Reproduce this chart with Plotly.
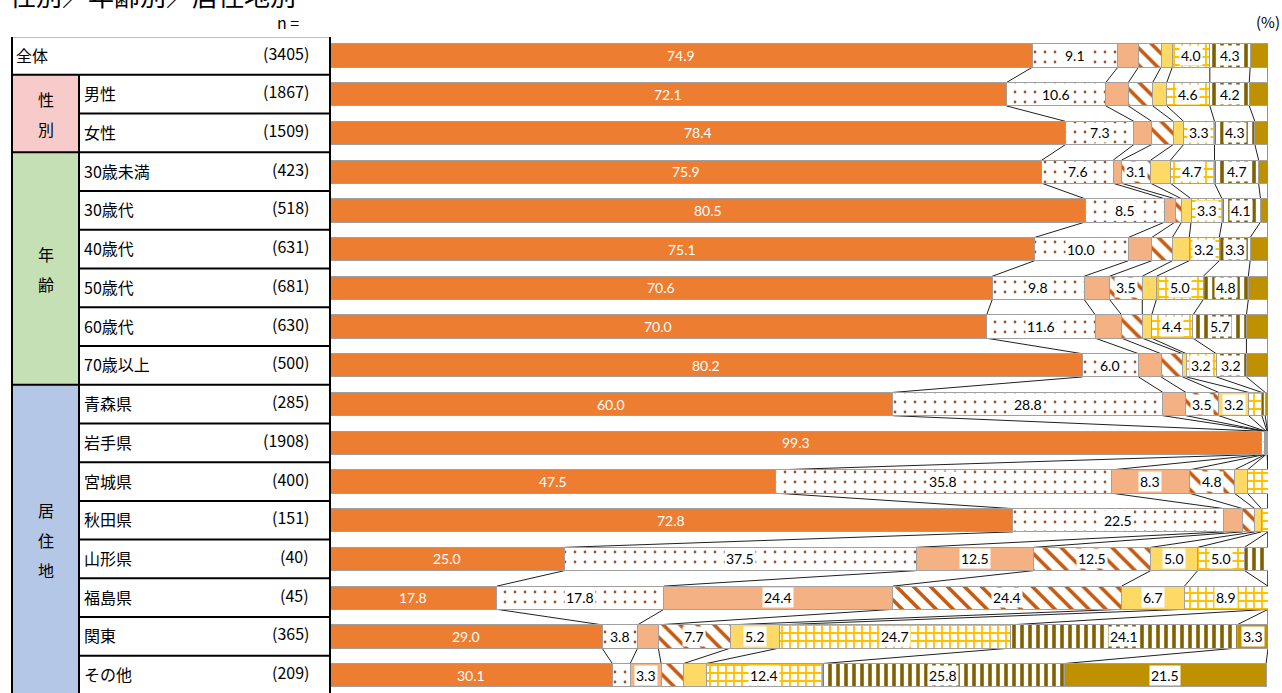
import plotly.graph_objects as go

# ---------------- data ----------------
categories = ["全体", "男性", "女性", "30歳未満", "30歳代", "40歳代", "50歳代", "60歳代", "70歳以上",
              "青森県", "岩手県", "宮城県", "秋田県", "山形県", "福島県", "関東", "その他"]
n_labels = ["(3405)", "(1867)", "(1509)", "(423)", "(518)", "(631)", "(681)", "(630)", "(500)",
            "(285)", "(1908)", "(400)", "(151)", "(40)", "(45)", "(365)", "(209)"]
group_names = ["性別", "年齢", "居住地"]
group_first = ["男性", "30歳未満", "青森県"]
group_last = ["女性", "70歳以上", "その他"]
title_text = "性別／年齢別／居住地別"

series_1 = [74.9, 72.1, 78.4, 75.9, 80.5, 75.1, 70.6, 70.0, 80.2, 60.0, 99.3, 47.5, 72.8, 25.0, 17.8, 29.0, 30.1]
series_2 = [9.1, 10.6, 7.3, 7.6, 8.5, 10.0, 9.8, 11.6, 6.0, 28.8, 0.3, 35.8, 22.5, 37.5, 17.8, 3.8, 1.9]
series_3 = [2.2, 2.4, 1.9, 0.9, 1.1, 2.5, 2.7, 2.8, 2.4, 2.45, 0.1, 8.3, 2.0, 12.5, 24.4, 2.2, 3.3]
series_4 = [2.4, 2.6, 2.3, 3.1, 0.7, 2.2, 3.5, 2.2, 2.3, 3.5, 0.05, 4.8, 1.3, 12.5, 24.4, 7.7, 2.4]
series_5 = [1.2, 1.5, 1.1, 2.1, 1.0, 1.8, 1.5, 1.0, 0.4, 3.2, 0.05, 1.4, 0.7, 5.0, 6.7, 5.2, 2.4]
series_6 = [4.0, 4.6, 3.3, 4.7, 3.3, 3.2, 5.0, 4.4, 3.2, 1.4, 0.1, 2.2, 0.7, 5.0, 8.9, 24.7, 12.4]
series_7 = [4.3, 4.2, 4.3, 4.7, 4.1, 3.3, 4.8, 5.7, 3.2, 0.35, 0.05, 0.0, 0.0, 2.5, 0.0, 24.1, 25.8]
series_8 = [1.9, 2.0, 1.4, 1.0, 0.8, 1.9, 2.1, 2.3, 2.3, 0.3, 0.05, 0.0, 0.0, 0.0, 0.0, 3.3, 21.5]
all_series = [series_1, series_2, series_3, series_4, series_5, series_6, series_7, series_8]

# ---------------- styles ----------------
W, H = 1282, 693
X0, X1 = 330, 1268          # pixel extent of the plot area
TOP = 37
ROW_PX = 38.73
ROW0_PX = 55.5
FONT_JP = "Noto Sans CJK JP"
FONT_NUM = "Lato, Noto Sans"
OUTLINE = "#A0A0A0"
styles = [
    dict(color="#ED7D31"),
    dict(color="white", pattern=dict(shape=".", fgcolor="#A0522D", bgcolor="white", fgopacity=1,
                                     size=10, solidity=0.06)),
    dict(color="#F4B183"),
    dict(color="white", pattern=dict(shape="\\", fgcolor="#C55A11", bgcolor="white", fgopacity=1,
                                     size=12, solidity=0.3)),
    dict(color="#FFD966"),
    dict(color="white", pattern=dict(shape="+", fgcolor="#FFC000", bgcolor="white", fgopacity=1,
                                     size=8, solidity=0.4)),
    dict(color="white", pattern=dict(shape="|", fgcolor="#7F6000", bgcolor="white", fgopacity=1,
                                     size=8, solidity=0.45)),
    dict(color="#BF9000"),
]
BARGAP = 0.4
HALF = (1 - BARGAP) / 2

rows = list(range(len(categories)))
fig = go.Figure()
for k, (vals, st) in enumerate(zip(all_series, styles)):
    fig.add_trace(go.Bar(
        x=vals, y=rows, orientation="h", name=f"s{k+1}",
        marker=dict(line=dict(color=OUTLINE, width=1), **st),
        hoverinfo="x", showlegend=False,
    ))

# cumulative sums for labels and series lines
cums = []
for i in rows:
    c, acc = [], 0.0
    for s in all_series:
        acc += s[i]
        c.append(acc)
    cums.append(c)

annotations = []
shapes = []

# data labels
for i in rows:
    start = 0.0
    for k, s in enumerate(all_series):
        v = s[i]
        mid = start + v / 2
        if k == 0:
            annotations.append(dict(x=mid, y=i, xref="x", yref="y", text=f"{v:.1f}", showarrow=False,
                                    xanchor="center", yanchor="middle",
                                    font=dict(family=FONT_NUM, size=14, color="white")))
        elif v >= 3.0:
            annotations.append(dict(x=mid, y=i, xref="x", yref="y", text=f"{v:.1f}", showarrow=False,
                                    xanchor="center", yanchor="middle",
                                    font=dict(family=FONT_NUM, size=14, color="black"),
                                    bgcolor="white", borderpad=1))
        start += v

# series lines between adjacent bars
for i in rows[:-1]:
    for k in range(len(all_series)):
        shapes.append(dict(type="line", xref="x", yref="y", x0=cums[i][k], x1=cums[i + 1][k],
                           y0=i + HALF, y1=i + 1 - HALF, line=dict(color="#202020", width=1), layer="below"))


def px(xp):
    return (xp - X0) / (X1 - X0)


def py(yp):
    return 1 - (yp - TOP) / (H - TOP)


# ---- left table ----
idx = {c: i for i, c in enumerate(categories)}
LX, MX, RX = 12, 79, 330
group_colors = ["#F8CBCB", "#C5E0B4", "#B4C7E7"]
CHAR_STEP = 30
for g, col in zip(range(3), group_colors):
    a, b = idx[group_first[g]], idx[group_last[g]]
    shapes.append(dict(type="rect", xref="paper", yref="y", x0=px(LX), x1=px(MX), y0=a - 0.5, y1=b + 0.5,
                       fillcolor=col, line=dict(width=0), layer="below"))
    chars = list(group_names[g])
    m = len(chars)
    for j, ch in enumerate(chars):
        off = ((m - 1) / 2 - j) * CHAR_STEP
        annotations.append(dict(x=px((LX + MX) / 2), y=(a + b) / 2, xref="paper", yref="y", text=ch,
                                xanchor="center", yanchor="middle", yshift=off, showarrow=False,
                                font=dict(family=FONT_JP, size=16, color="black")))

last = len(categories) - 1
LINE = dict(color="black", width=2)
for xv, y0 in [(LX, -0.5), (MX, 0.5), (RX, -0.5)]:
    shapes.append(dict(type="line", xref="paper", yref="y", x0=px(xv), x1=px(xv), y0=y0, y1=last + 0.5, line=LINE))
full_breaks = {-0.5, 0.5} | {idx[c] + 0.5 for c in group_last}
for j in range(-1, last + 1):
    yv = j + 0.5
    x_start = LX if yv in full_breaks else MX
    shapes.append(dict(type="line", xref="paper", yref="y", x0=px(x_start), x1=px(RX), y0=yv, y1=yv, line=LINE))

for i, c in enumerate(categories):
    xl = 14 if i == 0 else 82
    annotations.append(dict(x=px(xl), y=i, xref="paper", yref="y", text=c, xanchor="left", yanchor="middle",
                            yshift=1, showarrow=False, font=dict(family=FONT_JP, size=16, color="black")))
    annotations.append(dict(x=px(311), y=i, xref="paper", yref="y", text=n_labels[i], xanchor="right",
                            yanchor="middle", yshift=3, showarrow=False,
                            font=dict(family=FONT_JP, size=16, color="black")))

# header texts
annotations.append(dict(x=px(301), y=py(22), xref="paper", yref="paper", text="n =", xanchor="right",
                        yanchor="middle", showarrow=False, font=dict(family=FONT_JP, size=16, color="black")))
annotations.append(dict(x=px(1282), y=py(22), xref="paper", yref="paper", text="(%)", xanchor="right",
                        yanchor="middle", showarrow=False, font=dict(family=FONT_JP, size=15, color="black")))
annotations.append(dict(x=px(8), y=py(-6), xref="paper", yref="paper", text=title_text,
                        xanchor="left", yanchor="middle", height=30, showarrow=False,
                        font=dict(family=FONT_JP, size=26, color="black")))

fig.update_layout(
    width=W, height=H, barmode="stack", bargap=BARGAP,
    margin=dict(l=X0, r=W - X1, t=TOP, b=0, pad=0),
    paper_bgcolor="white", plot_bgcolor="white",
    xaxis=dict(range=[0, 100], visible=False, fixedrange=True),
    yaxis=dict(range=[(H - ROW0_PX) / ROW_PX, -(ROW0_PX - TOP) / ROW_PX], visible=False, fixedrange=True),
    shapes=shapes, annotations=annotations,
)

fig.write_html("out.html", config={"displayModeBar": False},
               post_script="document.body.style.margin='0';document.body.style.overflow='hidden';")
